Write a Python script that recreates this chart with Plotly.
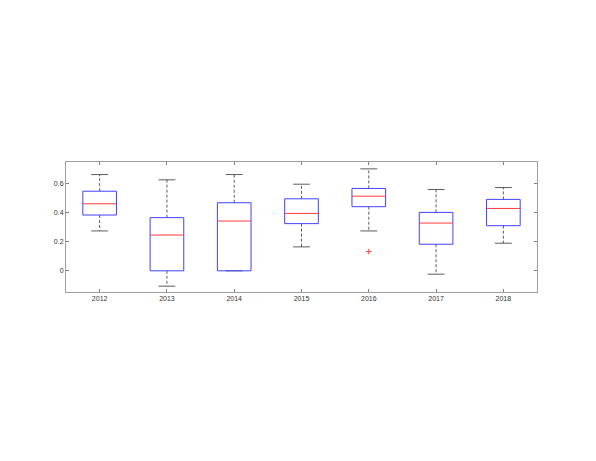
import plotly.graph_objects as go

years = ["2012", "2013", "2014", "2015", "2016", "2017", "2018"]
upper_whisker = [0.659, 0.623, 0.659, 0.593, 0.698, 0.557, 0.570]
q3 = [0.545, 0.364, 0.466, 0.493, 0.564, 0.400, 0.489]
median = [0.459, 0.245, 0.341, 0.393, 0.511, 0.327, 0.427]
q1 = [0.382, 0.000, 0.000, 0.323, 0.439, 0.182, 0.309]
lower_whisker = [0.273, -0.105, 0.000, 0.164, 0.273, -0.023, 0.189]
outlier_year = ["2016"]
outlier_val = [0.132]

ytick_vals = [0, 0.2, 0.4, 0.6]
ytick_text = ["0", "0.2", "0.4", "0.6"]

box_half = 0.25
cap_half = 0.125

fig = go.Figure()

bx, by, mx, my, wx, wy, cx, cy = [], [], [], [], [], [], [], []
for i in range(len(years)):
    p = i + 1
    bx += [p - box_half, p + box_half, p + box_half, p - box_half, p - box_half, None]
    by += [q1[i], q1[i], q3[i], q3[i], q1[i], None]
    mx += [p - box_half, p + box_half, None]
    my += [median[i], median[i], None]
    wx += [p, p, None, p, p, None]
    wy += [q3[i], upper_whisker[i], None, q1[i], lower_whisker[i], None]
    cx += [p - cap_half, p + cap_half, None, p - cap_half, p + cap_half, None]
    cy += [upper_whisker[i], upper_whisker[i], None, lower_whisker[i], lower_whisker[i], None]

fig.add_trace(go.Scatter(x=wx, y=wy, mode="lines", line=dict(color="#333333", width=0.8, dash="3px,2px"), hoverinfo="skip"))
fig.add_trace(go.Scatter(x=cx, y=cy, mode="lines", line=dict(color="#333333", width=0.8), hoverinfo="skip"))
fig.add_trace(go.Scatter(x=bx, y=by, mode="lines", line=dict(color="#4040ff", width=1), hoverinfo="skip"))
fig.add_trace(go.Scatter(x=mx, y=my, mode="lines", line=dict(color="#ff3a3a", width=1), hoverinfo="skip"))
fig.add_trace(go.Scatter(x=[years.index(y) + 1 for y in outlier_year], y=outlier_val, mode="markers",
                         marker=dict(symbol="cross-thin", size=4, line=dict(color="#ff4040", width=1)), hoverinfo="skip"))

axis_common = dict(showgrid=False, zeroline=False, showline=True, linecolor="#a0a0a0", linewidth=1,
                   mirror="ticks", ticks="inside", ticklen=3, tickcolor="#808080",
                   tickfont=dict(family="Liberation Sans, Arial", size=7, color="#333333"))

fig.update_layout(
    width=596, height=461,
    margin=dict(l=58, r=67, t=154, b=177),
    paper_bgcolor="white", plot_bgcolor="white",
    showlegend=False,
    xaxis=dict(range=[0.5, 7.5], tickvals=list(range(1, len(years) + 1)), ticktext=years, **axis_common),
    yaxis=dict(range=[-0.145, 0.745], tickvals=ytick_vals, ticktext=ytick_text, **axis_common),
)

fig.write_html("out.html")
